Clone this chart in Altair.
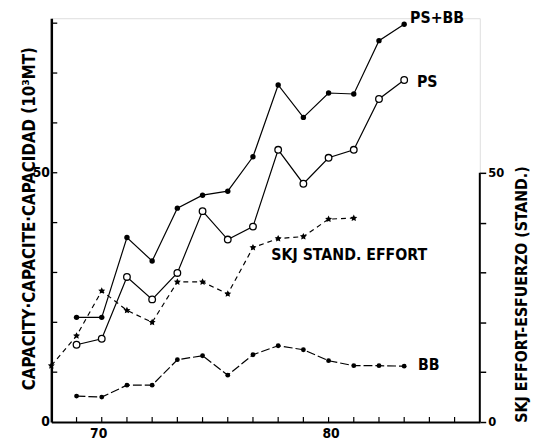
import altair as alt
import pandas as pd

# ---- data ----
years = [70, 71, 72, 73, 74, 75, 76, 77, 78, 79, 80, 81, 82, 83]
ps_bb = [21.0, 21.0, 37.0, 32.3, 42.9, 45.5, 46.3, 53.2, 67.6, 61.1, 66.0, 65.8, 76.5, 79.8]
ps = [15.5, 16.7, 29.1, 24.6, 29.9, 42.3, 36.6, 39.2, 54.6, 47.8, 53.0, 54.6, 64.8, 68.6]
bb = [5.2, 5.0, 7.4, 7.4, 12.5, 13.3, 9.4, 13.5, 15.3, 14.5, 12.3, 11.3, 11.3, 11.2]
effort_years = [69, 70, 71, 72, 73, 74, 75, 76, 77, 78, 79, 80, 81]
effort = [11.3, 17.3, 26.3, 22.4, 20.0, 28.1, 28.1, 25.7, 35.0, 36.8, 37.2, 40.7, 40.9]

x_ticks = [70, 71, 72, 73, 74, 75, 76, 77, 78, 79, 80, 81, 82, 83, 84, 85]
x_labels = [70, 80]
cap_ticks = [10, 20, 30, 40, 50, 60, 70, 80]
cap_labels = [0, 50]
eff_ticks = [0, 10, 20, 30, 40, 50]
eff_axis_range = [0, 50]

FONT = "DejaVu Sans Condensed, Liberation Sans Narrow, DejaVu Sans"
W, H = 435, 410

df_psbb = pd.DataFrame({"year": years, "value": ps_bb})
df_ps = pd.DataFrame({"year": years, "value": ps})
df_bb = pd.DataFrame({"year": years, "value": bb})
df_eff = pd.DataFrame({"year": effort_years, "effort": effort})

x_scale = alt.Scale(domain=[69, 86], nice=False, zero=False)
x_axis = alt.Axis(
    values=x_labels, title=None, ticks=False, grid=False,
    domainWidth=2, domainColor="black",
    labelFont=FONT, labelFontSize=14, labelFontWeight="bold", labelColor="black",
    labelPadding=5,
    labelOffset={"condition": {"test": "datum.value == 70", "value": 22}, "value": 2},
)
X = alt.X("year:Q", scale=x_scale, axis=x_axis)

cap_scale = alt.Scale(domain=[0, 81], nice=False)
cap_axis = alt.Axis(
    values=cap_labels, ticks=False, grid=False,
    domainWidth=2.5, domainColor="black",
    labelFont=FONT, labelFontSize=14, labelFontWeight="bold", labelColor="black",
    labelPadding=2,
    title="CAPACITY·CAPACITE·CAPACIDAD (10³MT)",
    titleFont=FONT, titleFontSize=17, titleFontWeight="bold", titleColor="black",
    titleAngle=270, titleX=-22, titleY=203, titleAlign="center", titleBaseline="middle",
)
Yc = alt.Y("value:Q", scale=cap_scale, axis=cap_axis)

eff_scale = alt.Scale(domain=[0, 81], nice=False)
eff_axis = alt.Axis(
    orient="right", values=eff_ticks,
    labelExpr="datum.value == 0 || datum.value == 50 ? datum.label : ''",
    domain=False, tickSize=6, tickWidth=1.5, tickColor="black", grid=False,
    labelFont=FONT, labelFontSize=13, labelFontWeight="bold", labelColor="black",
    labelPadding=2,
    title="SKJ EFFORT-ESFUERZO (STAND.)",
    titleFont=FONT, titleFontSize=16, titleFontWeight="bold", titleColor="black",
    titleAngle=270, titleX=42, titleY=280, titleAlign="center", titleBaseline="middle",
)
Ye = alt.Y("effort:Q", scale=eff_scale, axis=eff_axis)

STAR = "M0,-1L0.29,-0.4L0.95,-0.31L0.47,0.15L0.59,0.81L0,0.5L-0.59,0.81L-0.47,0.15L-0.95,-0.31L-0.29,-0.4Z"

# capacity lines
l_psbb = alt.Chart(df_psbb).mark_line(color="black", strokeWidth=1.2).encode(x=X, y=Yc)
p_psbb = alt.Chart(df_psbb).mark_point(shape="circle", filled=True, color="black", size=30, opacity=1).encode(x=X, y=Yc)
l_ps = alt.Chart(df_ps).mark_line(color="black", strokeWidth=1.2).encode(x=X, y=Yc)
p_ps = alt.Chart(df_ps).mark_point(shape="circle", filled=True, fill="white", stroke="black",
                                    strokeWidth=1.3, size=45, opacity=1).encode(x=X, y=Yc)
l_bb = alt.Chart(df_bb).mark_line(color="black", strokeWidth=1.2, strokeDash=[9, 3]).encode(x=X, y=Yc)
p_bb = alt.Chart(df_bb).mark_point(shape="circle", filled=True, color="black", size=24, opacity=1).encode(x=X, y=Yc)

# series labels anchored at series points
lab_psbb = alt.Chart(df_psbb.tail(1).assign(t="PS+BB")).mark_text(
    align="left", baseline="middle", dx=6, dy=-6, font=FONT, fontSize=16, fontWeight="bold", color="black"
).encode(x=X, y=Yc, text="t:N")
lab_ps = alt.Chart(df_ps.tail(1).assign(t="PS")).mark_text(
    align="left", baseline="middle", dx=13, dy=2, font=FONT, fontSize=16, fontWeight="bold", color="black"
).encode(x=X, y=Yc, text="t:N")
lab_bb = alt.Chart(df_bb.tail(1).assign(t="BB")).mark_text(
    align="left", baseline="middle", dx=14, dy=-1, font=FONT, fontSize=16, fontWeight="bold", color="black"
).encode(x=X, y=Yc, text="t:N")

# inward ticks
lt = alt.Chart(pd.DataFrame({"value": cap_ticks})).mark_rule(color="black", strokeWidth=1.3).encode(
    x=alt.value(0), x2=alt.value(6), y=Yc)
bt = alt.Chart(pd.DataFrame({"year": x_ticks})).mark_rule(color="black", strokeWidth=1.2).encode(
    x=X, y=alt.value(H), y2=alt.value(H - 5))

cap_layer = alt.layer(l_psbb, l_ps, l_bb, lt, bt, p_ps, p_psbb, p_bb, lab_psbb, lab_ps, lab_bb)

# effort layer (right axis)
l_eff = alt.Chart(df_eff).mark_line(color="black", strokeWidth=1.2, strokeDash=[5, 4]).encode(x=X, y=Ye)
p_eff = alt.Chart(df_eff).mark_point(shape=STAR, filled=True, color="black", size=55, opacity=1).encode(x=X, y=Ye)
lab_eff = alt.Chart(df_eff.iloc[[9]].assign(t="SKJ STAND. EFFORT")).mark_text(
    align="left", baseline="middle", dx=-7, dy=17, font=FONT, fontSize=16, fontWeight="bold", color="black"
).encode(x=X, y=Ye, text="t:N")
axis_line = alt.Chart(pd.DataFrame({"year": [86], "effort": [eff_axis_range[0]], "effort_top": [eff_axis_range[1]]})).mark_rule(
    color="black", strokeWidth=2).encode(x=X, y=Ye, y2="effort_top:Q")

eff_layer = alt.layer(l_eff, p_eff, lab_eff, axis_line)

chart = alt.layer(cap_layer, eff_layer).resolve_scale(y="independent").properties(
    width=W, height=H,
    autosize=alt.AutoSizeParams(type="none"),
    padding={"left": 44, "top": 7, "right": 53, "bottom": 22},
).configure_view(stroke=None).configure(background="white")

chart.save("out.html", embed_options={"renderer": "svg", "actions": False})
